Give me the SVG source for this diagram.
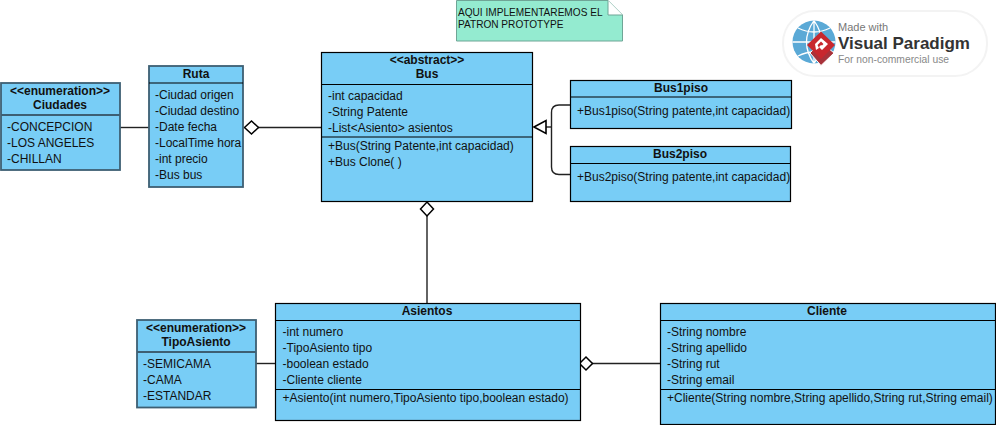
<svg xmlns="http://www.w3.org/2000/svg" width="996" height="425" viewBox="0 0 996 425">
<style>
text{font-family:"Liberation Sans",Arial,sans-serif;font-size:12px;fill:#111}
.t{font-weight:bold;text-anchor:middle}
.b{fill:#78cdf6;stroke:#000;stroke-width:1.2}
.s{fill:#78cdf6;stroke:#3d5f73;stroke-width:1.8}
.d{fill:none;stroke:#000;stroke-width:1.2}
.ds{fill:none;stroke:#3d5f73;stroke-width:1.8}
.c{fill:none;stroke:#222;stroke-width:1.4}
.o{fill:#fff;stroke:#000;stroke-width:1.5}
</style>
<g id="note">
<path d="M456.500 .5H608L622.500 15V41H456.500Z" fill="#94ebd0" stroke="#6fa596" stroke-width="1"/>
<path d="M608 .5V15H622.500" fill="#fff" stroke="#6fa596" stroke-width="1"/>
<text x="458" y="16" style="font-size:10.100px">AQUI IMPLEMENTAREMOS EL</text>
<text x="458" y="28" style="font-size:10.100px">PATRON PROTOTYPE</text>
</g>
<g id="connectors">
<path class="c" d="M120 127.500H149"/>
<path class="c" d="M258 127.500H321"/>
<path class="o" d="M244.500 127.500L251.500 121L258.500 127.500L251.500 134Z"/>
<path class="c" d="M570 105H559Q551.500 105 551.500 112.500V167Q551.500 174.500 559 174.500H570"/>
<path class="c" d="M546 127H551"/>
<path class="o" style="stroke-width:1.600" d="M534 127L546 120.500V133.500Z"/>
<path class="c" d="M427 216V303"/>
<path class="o" d="M427 202L433.500 209L427 216L420.500 209Z"/>
<path class="c" d="M592 363.500H660"/>
<path class="o" d="M579.500 363.500L586 357L592.500 363.500L586 370Z"/>
<path class="c" d="M256 363.500H275"/>
</g>
<g id="ciudades">
<rect class="s" x="1" y="83" width="119" height="87"/>
<path class="ds" d="M1 115H120"/>
<text class="t" x="60" y="95">&lt;&lt;enumeration&gt;&gt;</text>
<text class="t" x="60" y="109">Ciudades</text>
<text x="7" y="131">-CONCEPCION</text>
<text x="7" y="147">-LOS ANGELES</text>
<text x="7" y="163">-CHILLAN</text>
</g>
<g id="ruta">
<rect class="s" x="149" y="66" width="94" height="121"/>
<path class="d" d="M149 83H243"/>
<text class="t" x="196" y="78">Ruta</text>
<text x="155" y="99">-Ciudad origen</text>
<text x="155" y="115">-Ciudad destino</text>
<text x="155" y="131">-Date fecha</text>
<text x="155" y="147">-LocalTime hora</text>
<text x="155" y="163">-int precio</text>
<text x="155" y="179">-Bus bus</text>
</g>
<g id="bus">
<rect class="b" x="321.500" y="52.500" width="211" height="149"/>
<path class="d" d="M321.500 84.500H532.500M321.500 137H532.500"/>
<text class="t" x="427" y="64">&lt;&lt;abstract&gt;&gt;</text>
<text class="t" x="427" y="78">Bus</text>
<text x="328" y="100">-int capacidad</text>
<text x="328" y="116">-String Patente</text>
<text x="328" y="132">-List&lt;Asiento&gt; asientos</text>
<text x="328" y="150">+Bus(String Patente,int capacidad)</text>
<text x="328" y="166">+Bus Clone( )</text>
</g>
<g id="bus1piso">
<rect class="b" x="570.500" y="80.500" width="221" height="48"/>
<path class="d" d="M570.500 97H791.500"/>
<text class="t" x="681" y="92">Bus1piso</text>
<text x="577" y="115">+Bus1piso(String patente,int capacidad)</text>
</g>
<g id="bus2piso">
<rect class="b" x="570.500" y="146.500" width="220" height="55"/>
<path class="d" d="M570.500 163.500H790.500"/>
<text class="t" x="680" y="158">Bus2piso</text>
<text x="577" y="181">+Bus2piso(String patente,int capacidad)</text>
</g>
<g id="tipoasiento">
<rect class="s" x="137" y="320" width="119" height="87.500"/>
<path class="ds" d="M137 352H256"/>
<text class="t" x="196" y="332">&lt;&lt;enumeration&gt;&gt;</text>
<text class="t" x="196" y="346">TipoAsiento</text>
<text x="143" y="368">-SEMICAMA</text>
<text x="143" y="384">-CAMA</text>
<text x="143" y="400">-ESTANDAR</text>
</g>
<g id="asientos">
<rect class="b" x="275.500" y="303.500" width="305" height="117"/>
<path class="d" d="M275.500 320.500H580.500M275.500 389.500H580.500"/>
<text class="t" x="427" y="315">Asientos</text>
<text x="282.500" y="336">-int numero</text>
<text x="282.500" y="352">-TipoAsiento tipo</text>
<text x="282.500" y="368">-boolean estado</text>
<text x="282.500" y="384">-Cliente cliente</text>
<text x="282.500" y="402">+Asiento(int numero,TipoAsiento tipo,boolean estado)</text>
</g>
<g id="cliente">
<rect class="b" x="660.500" y="303.500" width="335" height="121"/>
<path class="d" d="M660.500 320.500H995.500M660.500 389.500H995.500"/>
<text class="t" x="827" y="315">Cliente</text>
<text x="667" y="336">-String nombre</text>
<text x="667" y="352">-String apellido</text>
<text x="667" y="368">-String rut</text>
<text x="667" y="384">-String email</text>
<text x="667" y="402">+Cliente(String nombre,String apellido,String rut,String email)</text>
</g>
<g id="watermark">
<rect x="783" y="11" width="204" height="65" rx="32" fill="#fff" stroke="#f3f3f3" stroke-width="2"/>
<circle cx="814" cy="42" r="21.500" fill="#5aa9d6"/>
<path d="M792.500 42H835.500M814 20.500V63.500M798 28Q814 36 830 28M798 56Q814 48 830 56M814 20.500Q799 42 814 63.500M814 20.500Q829 42 814 63.500" fill="none" stroke="#fff" stroke-width="1.300"/>
<path d="M810 53L821 42L834 53L821 65.500Z" fill="#a8323a" stroke="#fff" stroke-width="1"/>
<path d="M807 45L821 31.500L835 45L821 59Z" fill="#c8272e"/>
<path d="M815 44L821 38L828 44L822 50L819 47L821 45L822 45.500L823.500 44L821 41.500L817.500 45L819 48L816 50Z" fill="#fff"/>
<text x="838" y="31" style="font-size:11px;fill:#777">Made with</text>
<text x="838" y="49" style="font-size:17px;font-weight:bold;fill:#333">Visual Paradigm</text>
<text x="838" y="62.500" style="font-size:10.300px;fill:#888">For non-commercial use</text>
</g>
</svg>
